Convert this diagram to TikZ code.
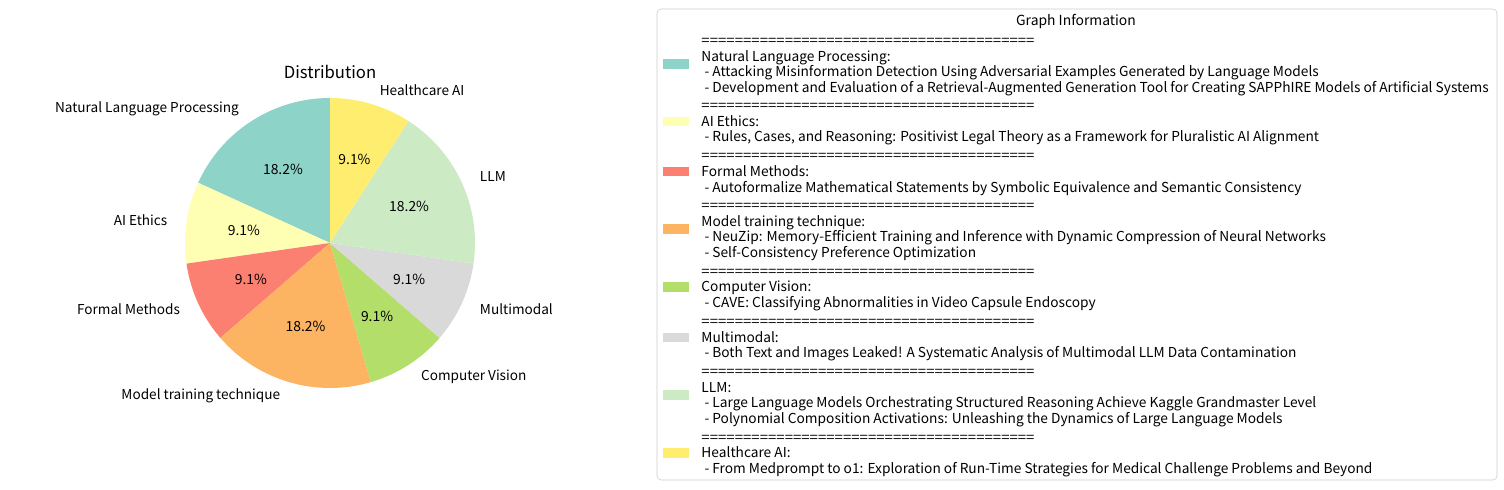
\documentclass[tikz,border=0pt]{standalone}
\usepackage{fontspec}
\usepackage{graphicx}
\setmainfont{Noto Sans CJK KR}
\usetikzlibrary{positioning}

\definecolor{nlpcol}{HTML}{8DD3C7}
\definecolor{ethcol}{HTML}{FFFFB3}
\definecolor{fmcol}{HTML}{FB8072}
\definecolor{mtcol}{HTML}{FDB462}
\definecolor{cvcol}{HTML}{B3DE69}
\definecolor{mmcol}{HTML}{D9D9D9}
\definecolor{llmcol}{HTML}{CCEBC5}
\definecolor{hccol}{HTML}{FFED6F}
\newcommand{\sepline}{\resizebox{239.8pt}{\height}{========================================}}

\begin{document}
\begin{tikzpicture}[x=0.72pt,y=0.72pt,
  slice label/.style={font=\fontsize{9.8}{12}\selectfont},
  pct label/.style={font=\fontsize{10}{12}\selectfont},
  legend patch/.style={minimum width=18.7pt,minimum height=6.5pt,inner sep=0pt},
  legend text/.style={anchor=west,align=left,inner sep=0pt,yshift=-2.2pt,font=\fontsize{9.88}{11.2}\selectfont}]

  \useasboundingbox (0,0) rectangle (1504,490);
  \fill[white] (0,0) rectangle (1504,490);

  % pie
  \coordinate (c) at (330,247);
  \fill[nlpcol] (c) -- ++(90:145) arc[start angle=90,end angle=155.45,radius=145] -- cycle;
  \fill[ethcol] (c) -- ++(155.45:145) arc[start angle=155.45,end angle=188.18,radius=145] -- cycle;
  \fill[fmcol] (c) -- ++(188.18:145) arc[start angle=188.18,end angle=220.91,radius=145] -- cycle;
  \fill[mtcol] (c) -- ++(220.91:145) arc[start angle=220.91,end angle=286.36,radius=145] -- cycle;
  \fill[cvcol] (c) -- ++(286.36:145) arc[start angle=286.36,end angle=319.09,radius=145] -- cycle;
  \fill[mmcol] (c) -- ++(319.09:145) arc[start angle=319.09,end angle=351.82,radius=145] -- cycle;
  \fill[llmcol] (c) -- ++(351.82:145) arc[start angle=351.82,end angle=417.27,radius=145] -- cycle;
  \fill[hccol] (c) -- ++(57.27:145) arc[start angle=57.27,end angle=90,radius=145] -- cycle;

  \node[font=\fontsize{12}{14}\selectfont] (title) at (330,418) {Distribution};

  \node[slice label,anchor=east] (l-nlp) at ([shift={(122.73:159.5)}]c) {Natural Language Processing};
  \node[slice label,anchor=east] (l-eth) at ([shift={(171.82:159.5)}]c) {AI Ethics};
  \node[slice label,anchor=east] (l-fm) at ([shift={(204.55:159.5)}]c) {Formal Methods};
  \node[slice label,anchor=east] (l-mt) at ([shift={(253.64:159.5)}]c) {Model training technique};
  \node[slice label,anchor=west] (l-cv) at ([shift={(302.73:159.5)}]c) {Computer Vision};
  \node[slice label,anchor=west] (l-mm) at ([shift={(335.45:159.5)}]c) {Multimodal};
  \node[slice label,anchor=west] (l-llm) at ([shift={(24.55:159.5)}]c) {LLM};
  \node[slice label,anchor=west] (l-hc) at ([shift={(73.64:159.5)}]c) {Healthcare AI};

  \node[pct label] (v-nlp) at ([shift={(122.73:87)}]c) {18.2\%};
  \node[pct label] (v-eth) at ([shift={(171.82:87)}]c) {9.1\%};
  \node[pct label] (v-fm) at ([shift={(204.55:87)}]c) {9.1\%};
  \node[pct label] (v-mt) at ([shift={(253.64:87)}]c) {18.2\%};
  \node[pct label] (v-cv) at ([shift={(302.73:87)}]c) {9.1\%};
  \node[pct label] (v-mm) at ([shift={(335.45:87)}]c) {9.1\%};
  \node[pct label] (v-llm) at ([shift={(24.55:87)}]c) {18.2\%};
  \node[pct label] (v-hc) at ([shift={(73.64:87)}]c) {9.1\%};

  % legend
  \draw[black!20,fill=white,rounded corners=3pt] (657,481) rectangle (1497,10);
  \node[font=\fontsize{10}{12}\selectfont] (legend title) at (1076,469) {Graph Information};

  \node[legend patch,fill=nlpcol] (p-nlp) at (676,426) {};
  \node[legend text,right=8.6pt of p-nlp] (t-nlp) {\sepline\\Natural Language Processing:\\
    \ - Attacking Misinformation Detection Using Adversarial Examples Generated by Language Models\\
    \ - Development and Evaluation of a Retrieval-Augmented Generation Tool for Creating SAPPhIRE Models of Artificial Systems};
  \node[legend patch,fill=ethcol] (p-eth) at (676,368.5) {};
  \node[legend text,right=8.6pt of p-eth] (t-eth) {\sepline\\AI Ethics:\\
    \ - Rules, Cases, and Reasoning: Positivist Legal Theory as a Framework for Pluralistic AI Alignment};
  \node[legend patch,fill=fmcol] (p-fm) at (676,318.5) {};
  \node[legend text,right=8.6pt of p-fm] (t-fm) {\sepline\\Formal Methods:\\
    \ - Autoformalize Mathematical Statements by Symbolic Equivalence and Semantic Consistency};
  \node[legend patch,fill=mtcol] (p-mt) at (676,261) {};
  \node[legend text,right=8.6pt of p-mt] (t-mt) {\sepline\\Model training technique:\\
    \ - NeuZip: Memory-Efficient Training and Inference with Dynamic Compression of Neural Networks\\
    \ - Self-Consistency Preference Optimization};
  \node[legend patch,fill=cvcol] (p-cv) at (676,203) {};
  \node[legend text,right=8.6pt of p-cv] (t-cv) {\sepline\\Computer Vision:\\
    \ - CAVE: Classifying Abnormalities in Video Capsule Endoscopy};
  \node[legend patch,fill=mmcol] (p-mm) at (676,152.5) {};
  \node[legend text,right=8.6pt of p-mm] (t-mm) {\sepline\\Multimodal:\\
    \ - Both Text and Images Leaked! A Systematic Analysis of Multimodal LLM Data Contamination};
  \node[legend patch,fill=llmcol] (p-llm) at (676,95) {};
  \node[legend text,right=8.6pt of p-llm] (t-llm) {\sepline\\LLM:\\
    \ - Large Language Models Orchestrating Structured Reasoning Achieve Kaggle Grandmaster Level\\
    \ - Polynomial Composition Activations: Unleashing the Dynamics of Large Language Models};
  \node[legend patch,fill=hccol] (p-hc) at (676,37) {};
  \node[legend text,right=8.6pt of p-hc] (t-hc) {\sepline\\Healthcare AI:\\
    \ - From Medprompt to o1: Exploration of Run-Time Strategies for Medical Challenge Problems and Beyond};

\end{tikzpicture}
\end{document}
